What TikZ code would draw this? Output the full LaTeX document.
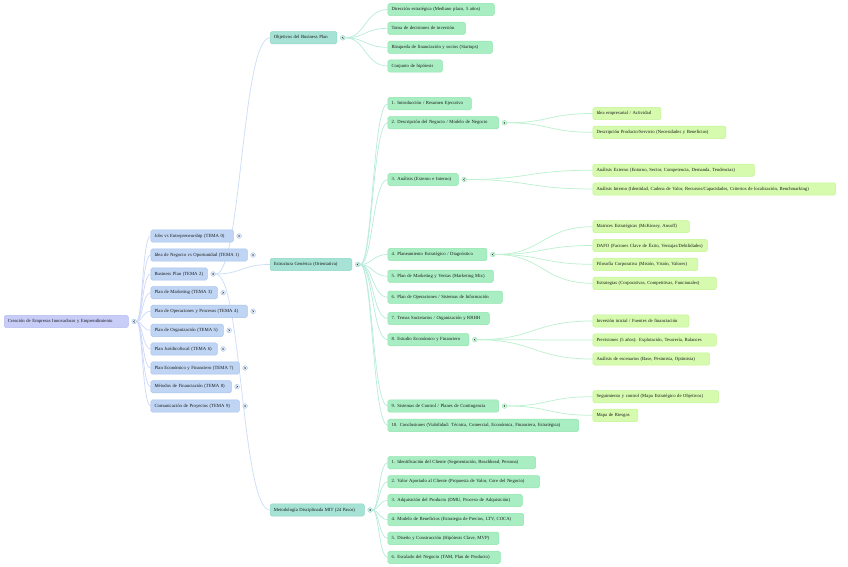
\documentclass[tikz,border=0pt]{standalone}
\usepackage{fontspec}
\setmainfont{Liberation Serif}
\usetikzlibrary{positioning,backgrounds,calc}
\definecolor{ink}{HTML}{1A1A1A}
\definecolor{rootfill}{HTML}{C8CDF8}
\definecolor{rootdraw}{HTML}{B4BCF2}
\definecolor{temafill}{HTML}{BFD5F3}
\definecolor{temadraw}{HTML}{A8C5EE}
\definecolor{secfill}{HTML}{A6E2D5}
\definecolor{secdraw}{HTML}{8ED7C5}
\definecolor{partfill}{HTML}{A9EEC3}
\definecolor{partdraw}{HTML}{8FE5AE}
\definecolor{leaffill}{HTML}{D6FBAE}
\definecolor{leafdraw}{HTML}{C2F494}
\definecolor{rootlink}{HTML}{D0D9FA}
\definecolor{bplink}{HTML}{CDDEF6}
\definecolor{seclink}{HTML}{B9ECDD}
\definecolor{partlink}{HTML}{BDF1CF}
\newcommand{\mmsize}{\fontsize{4.7}{5.4}\selectfont}

\begin{document}
\begin{tikzpicture}[x=1pt,y=-1pt,
  font=\mmsize,text=ink,
  box/.style={rounded corners=1.6pt,line width=0.5pt,minimum height=12.4pt,
              inner xsep=3.6pt,inner ysep=0pt,anchor=west,align=left},
  rootbox/.style={box,fill=rootfill,draw=rootdraw},
  temabox/.style={box,fill=temafill,draw=temadraw},
  secbox/.style={box,fill=secfill,draw=secdraw},
  partbox/.style={box,fill=partfill,draw=partdraw},
  leafbox/.style={box,fill=leaffill,draw=leafdraw},
  knob/.style={circle,inner sep=0pt,minimum size=4.8pt,line width=0.4pt,
               draw=temadraw,fill=white!60!temafill,
               path picture={\draw[ink,line width=0.35pt]
                 ([shift={({0.6*(#1)},0.9)}]path picture bounding box.center) --
                 ([shift={({-0.6*(#1)},0)}]path picture bounding box.center) --
                 ([shift={({0.6*(#1)},-0.9)}]path picture bounding box.center);}},
  link/.style={line width=0.75pt}]

\useasboundingbox (0,0) rectangle (848,567);

% root and its topics
\node[rootbox,text width=116.8pt] (root) at (4,321.5)
     {Creación de Empresas Innovadoras y Emprendimiento};
\node[knob=1,right=3pt of root] (root-k) {};

\foreach \i/\yy/\xr/\dir/\txt in {
    0/236/233/-1/{Jobs vs Entrepreneurship (TEMA 0)},
    1/255/247/-1/{Idea de Negocio vs Oportunidad (TEMA 1)},
    2/274/207/1/{Business Plan (TEMA 2)},
    3/292.7/217/-1/{Plan de Marketing (TEMA 3)},
    4/311.3/247/-1/{Plan de Operaciones y Procesos (TEMA 4)},
    5/330.3/223/-1/{Plan de Organización (TEMA 5)},
    6/349/217/-1/{Plan Jurídicofiscal (TEMA 6)},
    7/368/239/-1/{Plan Económico y Financiero (TEMA 7)},
    8/386.7/231/-1/{Métodos de Financiación (TEMA 8)},
    9/406/239/-1/{Comunicación de Proyectos (TEMA 9)}}{
  \pgfmathsetmacro\tw{\xr-150.7-7.2}
  \node[temabox,text width=\tw pt] (tema\i) at (150.7,\yy) {\txt};
  \node[knob=\dir,right=3pt of tema\i] (tema\i-k) {};
}

% Business Plan sections
\node[secbox,text width=59.5pt] (obj) at (270,37.8) {Objetivos del Business Plan};
\node[secbox,text width=74.3pt] (est) at (270,264.5) {Estructura Genérica (Orientativa)};
\node[secbox,text width=86.8pt] (mit) at (270,510) {Metodología Disciplinada MIT (24 Pasos)};
\foreach \s in {obj,est,mit}
  \node[knob=1,right=3pt of \s,draw=secdraw,fill=white!60!secfill] (\s-k) {};

\foreach \i/\yy/\xr/\txt in {
    1/9.5/494/{Dirección estratégica (Mediano plazo, 5 años)},
    2/28.3/465/{Toma de decisiones de inversión},
    3/47.3/492/{Búsqueda de financiación y socios (Startups)},
    4/66/442/{Conjunto de hipótesis}}{
  \pgfmathsetmacro\tw{\xr-387.7-7.2}
  \node[partbox,text width=\tw pt] (obj\i) at (387.7,\yy) {\txt};
}

\foreach \i/\yy/\xr/\txt in {
    1/103.7/471/{1. Introducción / Resumen Ejecutivo},
    2/122.8/498.3/{2. Descripción del Negocio / Modelo de Negocio},
    3/179.5/458/{3. Análisis (Externo e Interno)},
    4/254.5/486.7/{4. Planeamiento Estratégico / Diagnóstico},
    5/276.2/493/{5. Plan de Marketing y Ventas (Marketing Mix)},
    6/297.2/502/{6. Plan de Operaciones / Sistemas de Información},
    7/318.5/489/{7. Temas Societarios / Organización y RRHH},
    8/339.7/468.7/{8. Estudio Económico y Financiero},
    9/406/498.3/{9. Sistemas de Control / Planes de Contingencia},
    10/425.3/578.3/{10. Conclusiones (Viabilidad: Técnica, Comercial, Económica, Financiera, Estratégica)}}{
  \pgfmathsetmacro\tw{\xr-387.7-7.2}
  \node[partbox,text width=\tw pt] (est\i) at (387.7,\yy) {\txt};
}
\foreach \i in {2,3,4,8,9}
  \node[knob=1,right=3pt of est\i,draw=partdraw,fill=white!60!partfill] (est\i-k) {};

\foreach \i/\yy/\xr/\txt in {
    1/462.7/535.3/{1. Identificación del Cliente (Segmentación, Beachhead, Persona)},
    2/481.7/539.3/{2. Valor Aportado al Cliente (Propuesta de Valor, Core del Negocio)},
    3/500.5/522/{3. Adquisición del Producto (DMU, Proceso de Adquisición)},
    4/519.5/523.3/{4. Modelo de Beneficios (Estrategia de Precios, LTV, COCA)},
    5/538.3/498.7/{5. Diseño y Construcción (Hipótesis Clave, MVP)},
    6/557.3/500/{6. Escalado del Negocio (TAM, Plan de Producto)}}{
  \pgfmathsetmacro\tw{\xr-387.7-7.2}
  \node[partbox,text width=\tw pt] (mit\i) at (387.7,\yy) {\txt};
}

% details of the structure
\foreach \p/\i/\yy/\xr/\txt in {
    2/1/113.5/660.7/{Idea empresarial / Actividad},
    2/2/132.3/725.7/{Descripción Producto/Servicio (Necesidades y Beneficios)},
    3/1/170.2/754/{Análisis Externo (Entorno, Sector, Competencia, Demanda, Tendencias)},
    3/2/189/835.3/{Análisis Interno (Identidad, Cadena de Valor, Recursos/Capacidades, Criterios de localización, Benchmarking)},
    4/1/226.7/689/{Matrices Estratégicas (McKinsey, Ansoff)},
    4/2/245.5/707/{DAFO (Factores Clave de Éxito, Ventajas/Debilidades)},
    4/3/264.3/697.7/{Filosofía Corporativa (Misión, Visión, Valores)},
    4/4/283.3/716/{Estrategias (Corporativas, Competitivas, Funcionales)},
    8/1/321/688.7/{Inversión inicial / Fuentes de financiación},
    8/2/340/716/{Previsiones (5 años): Explotación, Tesorería, Balances},
    8/3/359/709.3/{Análisis de escenarios (Base, Pesimista, Optimista)},
    9/1/396.7/718.3/{Seguimiento y control (Mapa Estratégico de Objetivos)},
    9/2/415.3/637.7/{Mapa de Riesgos}}{
  \pgfmathsetmacro\tw{\xr-592.7-7.2}
  \node[leafbox,text width=\tw pt] (est\p-\i) at (592.7,\yy) {\txt};
}

\begin{scope}[on background layer]
  \foreach \i in {0,...,9}{
    \coordinate (m) at ($(root-k)!0.5!(tema\i.west)$);
    \draw[link,draw=rootlink] (root-k) .. controls (m |- root-k) and (m |- tema\i.west) .. (tema\i.west);
  }
  \foreach \s in {obj,est,mit}{
    \coordinate (m) at ($(tema2-k)!0.5!(\s.west)$);
    \draw[link,draw=bplink] (tema2-k) .. controls (m |- tema2-k) and (m |- \s.west) .. (\s.west);
  }
  \foreach \s/\n in {obj/4,est/10,mit/6}
    \foreach \i in {1,...,\n}{
      \coordinate (m) at ($(\s-k)!0.5!(\s\i.west)$);
      \draw[link,draw=seclink] (\s-k) .. controls (m |- \s-k) and (m |- \s\i.west) .. (\s\i.west);
    }
  \foreach \p/\i in {2/1,2/2,3/1,3/2,4/1,4/2,4/3,4/4,8/1,8/2,8/3,9/1,9/2}{
    \coordinate (m) at ($(est\p-k)!0.5!(est\p-\i.west)$);
    \draw[link,draw=partlink] (est\p-k) .. controls (m |- est\p-k) and (m |- est\p-\i.west) .. (est\p-\i.west);
  }
\end{scope}
\end{tikzpicture}
\end{document}
